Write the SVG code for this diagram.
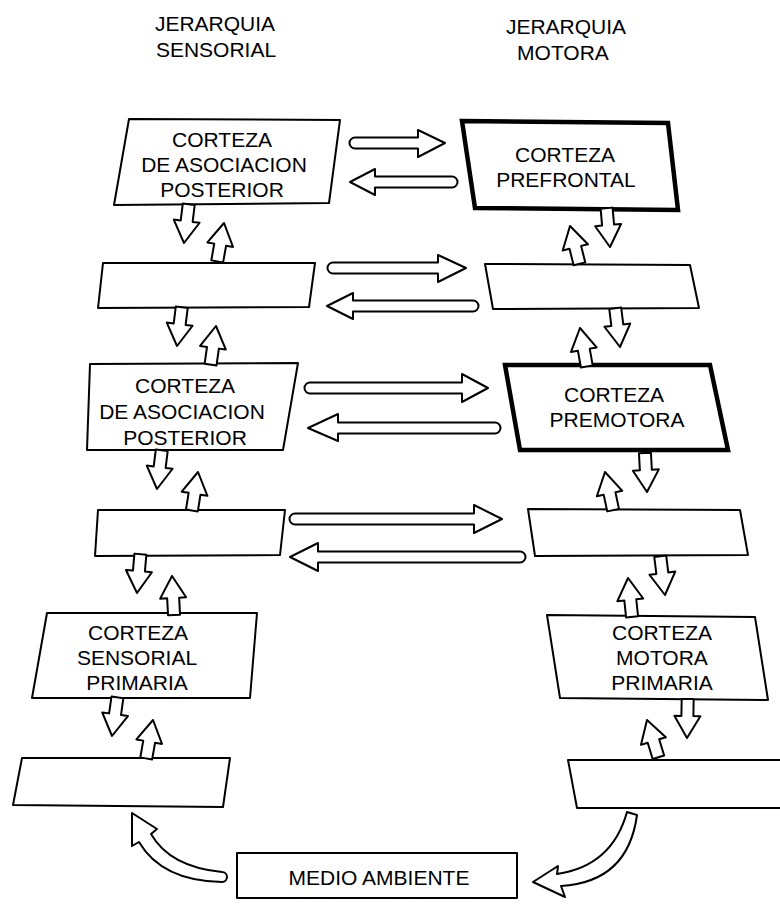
<svg xmlns="http://www.w3.org/2000/svg" width="780" height="907" viewBox="0 0 780 907">
<style>
.bx{fill:#fff;stroke:#000;stroke-width:2;stroke-linejoin:round}
.bd{fill:#fff;stroke:#000;stroke-width:4.5;stroke-linejoin:miter}
.ar{fill:#fff;stroke:#000;stroke-width:2;stroke-linejoin:round}
text{font-family:"Liberation Sans",Arial,sans-serif;font-size:21px;fill:#000;text-anchor:middle}
.tt{font-size:21px}
</style>
<defs>
<path id="va" d="M0,0 L13,22 L6,22 L6,39 L-6,39 L-6,22 L-13,22 Z"/>
</defs>
<rect width="780" height="907" fill="#fff"/>
<g id="titles">
<text class="tt" x="215" y="31">JERARQUIA</text>
<text class="tt" x="216" y="57">SENSORIAL</text>
<text class="tt" x="566" y="34">JERARQUIA</text>
<text class="tt" x="563" y="60">MOTORA</text>
</g>
<g id="tl1"><path class="bx" d="M129,119 L340,120 L329,203 L114,205 Z"/>
<text x="222" y="147">CORTEZA</text><text x="224" y="172">DE ASOCIACION</text><text x="222" y="197">POSTERIOR</text></g>
<g id="tl2"><path class="bx" d="M103,263 L315,263 L309,307 L98,308 Z"/></g>
<g id="tl3"><path class="bx" d="M90,364 L298,363 L283,450 L87,450 Z"/>
<text x="185" y="393">CORTEZA</text><text x="182" y="419">DE ASOCIACION</text><text x="185" y="445">POSTERIOR</text></g>
<g id="tl4"><path class="bx" d="M98,510 L285,510 L280,555 L95,556 Z"/></g>
<g id="tl5"><path class="bx" d="M47,613 L257,613 L250,698 L32,698 Z"/>
<text x="138" y="640">CORTEZA</text><text x="137" y="665">SENSORIAL</text><text x="137" y="690">PRIMARIA</text></g>
<g id="tl6"><path class="bx" d="M22,758 L230,758 L223,807 L13,805 Z"/></g>
<g id="tr1"><path class="bd" d="M462,121 L668,123 L678,210 L475,208 Z"/>
<text x="565" y="162">CORTEZA</text><text x="566" y="187">PREFRONTAL</text></g>
<g id="tr2"><path class="bx" d="M485,264 L690,265 L699,308 L493,309 Z"/></g>
<g id="tr3"><path class="bd" d="M505,365 L710,365 L728,450 L520,450 Z"/>
<text x="614" y="402">CORTEZA</text><text x="617" y="427">PREMOTORA</text></g>
<g id="tr4"><path class="bx" d="M528,509 L740,510 L748,555 L535,556 Z"/></g>
<g id="tr5"><path class="bx" d="M547,615 L755,617 L768,700 L560,698 Z"/>
<text x="662" y="640">CORTEZA</text><text x="662" y="665">MOTORA</text><text x="662" y="690">PRIMARIA</text></g>
<g id="tr6"><path class="bx" d="M568,760 L784,760 L784,808 L577,808 Z"/></g>
<g id="medio"><path class="bx" d="M237,853 L517,853 L517,898 L237,898 Z"/>
<text x="379" y="885">MEDIO AMBIENTE</text></g>
<g id="connectors">
<path class="ar" d="M355,137.5 L418,137.5 L418,130 L445,143 L418,157 L418,148.5 L355,148.5 A5.5,5.5 0 0 1 355,137.5 Z"/>
<path class="ar" d="M452,176.5 L375,176.5 L375,169 L350,182 L375,195 L375,187.5 L452,187.5 A5.5,5.5 0 0 0 452,176.5 Z"/>
<path class="ar" d="M333,262.5 L438,262.5 L438,255 L466,268 L438,282 L438,273.5 L333,273.5 A5.5,5.5 0 0 1 333,262.5 Z"/>
<path class="ar" d="M473,300.5 L353,300.5 L353,293 L327,306 L353,319 L353,311.5 L473,311.5 A5.5,5.5 0 0 0 473,300.5 Z"/>
<path class="ar" d="M310,382.5 L462,382.5 L462,374 L488,388 L462,402 L462,393.5 L310,393.5 A5.5,5.5 0 0 1 310,382.5 Z"/>
<path class="ar" d="M495,422.5 L338,422.5 L338,414 L308,428 L338,441 L338,433.5 L495,433.5 A5.5,5.5 0 0 0 495,422.5 Z"/>
<path class="ar" d="M295,513.5 L474,513.5 L474,505 L502,519 L474,533 L474,524.5 L295,524.5 A5.5,5.5 0 0 1 295,513.5 Z"/>
<path class="ar" d="M520,551.5 L318,551.5 L318,543 L290,557 L318,571 L318,562.5 L520,562.5 A5.5,5.5 0 0 0 520,551.5 Z"/>
<use href="#va" class="ar" transform="translate(184,243) rotate(187)"/>
<use href="#va" class="ar" transform="translate(224,223) rotate(10)"/>
<use href="#va" class="ar" transform="translate(177,346) rotate(187)"/>
<use href="#va" class="ar" transform="translate(216,326) rotate(8)"/>
<use href="#va" class="ar" transform="translate(157,489) rotate(187)"/>
<use href="#va" class="ar" transform="translate(198,472) rotate(9)"/>
<use href="#va" class="ar" transform="translate(137,593) rotate(185)"/>
<use href="#va" class="ar" transform="translate(172,576) rotate(-3)"/>
<use href="#va" class="ar" transform="translate(112,736) rotate(188)"/>
<use href="#va" class="ar" transform="translate(153,720) rotate(10)"/>
<use href="#va" class="ar" transform="translate(610,247) rotate(175)"/>
<use href="#va" class="ar" transform="translate(570,226) rotate(-14)"/>
<use href="#va" class="ar" transform="translate(620,347) rotate(173)"/>
<use href="#va" class="ar" transform="translate(580,328) rotate(-10)"/>
<use href="#va" class="ar" transform="translate(647,492) rotate(177)"/>
<use href="#va" class="ar" transform="translate(605,472) rotate(-12)"/>
<use href="#va" class="ar" transform="translate(665,595) rotate(173)"/>
<use href="#va" class="ar" transform="translate(628,578) rotate(-6)"/>
<use href="#va" class="ar" transform="translate(687,738) rotate(181)"/>
<use href="#va" class="ar" transform="translate(647,720) rotate(-17)"/>
<path class="ar" d="M132,813 L157,829 L151,834 Q170,867 222,872 A5,5 0 0 1 222,882 Q162,881 139,842 L132,846 Z"/>
<path class="ar" d="M533,882 L558,866 L557,874 Q612,866 627,812 L637,815 Q628,882 561,886 L565,897 Z"/>
</g>
</svg>
